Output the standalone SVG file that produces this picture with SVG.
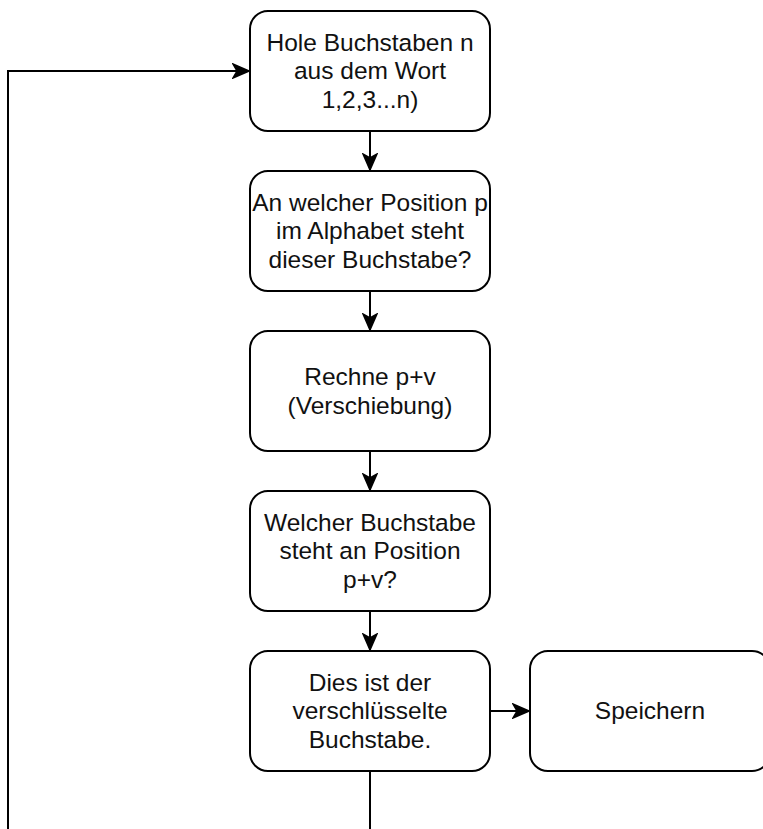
<svg xmlns="http://www.w3.org/2000/svg" width="763" height="829" viewBox="0 0 763 829">
<style>
.box{fill:#fff;stroke:#000;stroke-width:2}
.lbl{font-family:"Liberation Sans",Arial,sans-serif;font-size:24.5px;fill:#111;text-anchor:middle}
.edge{fill:none;stroke:#000;stroke-width:2}
</style>
<defs>
<marker id="arr" markerUnits="userSpaceOnUse" markerWidth="18" markerHeight="16" viewBox="0 0 18 16" refX="17" refY="8" orient="auto">
<path d="M17,8 L1,1 L5,8 L1,15 Z" fill="#000" stroke="#000" stroke-width="1.5" stroke-linejoin="miter"/>
</marker>
</defs>
<g id="connectors">
<path class="edge" d="M8,829 L8,71 L249,71" marker-end="url(#arr)"/>
<path class="edge" d="M370,131 L370,170" marker-end="url(#arr)"/>
<path class="edge" d="M370,291 L370,330" marker-end="url(#arr)"/>
<path class="edge" d="M370,451 L370,490" marker-end="url(#arr)"/>
<path class="edge" d="M370,611 L370,650" marker-end="url(#arr)"/>
<path class="edge" d="M490,711 L529,711" marker-end="url(#arr)"/>
<path class="edge" d="M370,771 L370,829"/>
</g>
<g id="n1">
<rect class="box" x="250" y="11" width="240" height="120" rx="18" ry="18"/>
<text class="lbl"><tspan x="370" y="50.5">Hole Buchstaben n</tspan><tspan x="370" y="79.3">aus dem Wort</tspan><tspan x="370" y="108.1">1,2,3...n)</tspan></text>
</g>
<g id="n2">
<rect class="box" x="250" y="171" width="240" height="120" rx="18" ry="18"/>
<text class="lbl"><tspan x="370" y="210.5">An welcher Position p</tspan><tspan x="370" y="239.3">im Alphabet steht</tspan><tspan x="370" y="268.1">dieser Buchstabe?</tspan></text>
</g>
<g id="n3">
<rect class="box" x="250" y="331" width="240" height="120" rx="18" ry="18"/>
<text class="lbl"><tspan x="370" y="384.9">Rechne p+v</tspan><tspan x="370" y="413.7">(Verschiebung)</tspan></text>
</g>
<g id="n4">
<rect class="box" x="250" y="491" width="240" height="120" rx="18" ry="18"/>
<text class="lbl"><tspan x="370" y="530.5">Welcher Buchstabe</tspan><tspan x="370" y="559.3">steht an Position</tspan><tspan x="370" y="588.1">p+v?</tspan></text>
</g>
<g id="n5">
<rect class="box" x="250" y="651" width="240" height="120" rx="18" ry="18"/>
<text class="lbl"><tspan x="370" y="690.5">Dies ist der</tspan><tspan x="370" y="719.3">verschlüsselte</tspan><tspan x="370" y="748.1">Buchstabe.</tspan></text>
</g>
<g id="n6">
<rect class="box" x="530" y="651" width="240" height="120" rx="18" ry="18"/>
<text class="lbl"><tspan x="650" y="719.3">Speichern</tspan></text>
</g>
</svg>
